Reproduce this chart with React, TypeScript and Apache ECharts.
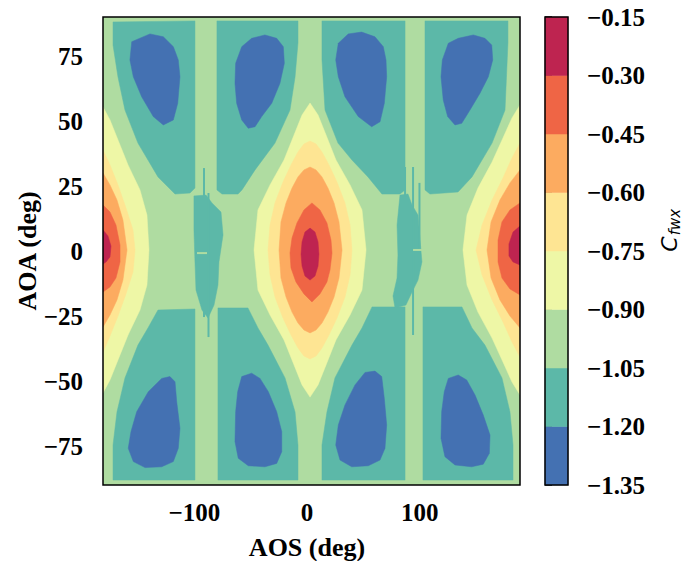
import React, { useEffect, useRef } from 'react';
import * as echarts from 'echarts';

type Pt = [number, number];

// ---- contour levels & colours (Cfwx) ----
const levelEdges = [-1.35, -1.2, -1.05, -0.9, -0.75, -0.6, -0.45, -0.3, -0.15];
const levelColors = ['#4471b2', '#5cb8a8', '#afdca1', '#eef7a6', '#fee593', '#fcab60', '#ef6545', '#be2450'];
const xTicks = [-100, 0, 100];
const yTicks = [-75, -50, -25, 0, 25, 50, 75];
const xRange = [-181, 189];
const yRange = [-90, 90];

// ---- contour regions: [AOS deg, AOA deg] ----
const background: Pt[] = [[-181, 90], [189, 90], [189, -90], [-181, -90]];

const cupUpperA: Pt[] = [[-172.1, 88.1], [-99.4, 88.5], [-99.4, 24.2], [-103.8, 22.3], [-117.1, 21.9], [-132.2, 28.5], [-150.0, 41.5], [-161.5, 54.2], [-167.7, 66.9], [-172.1, 79.2]];
const cupUpperB: Pt[] = [[-79.9, 88.5], [-8.0, 88.5], [-8.0, 80.0], [-10.6, 66.9], [-15.1, 54.2], [-28.4, 41.5], [-46.1, 31.2], [-57.7, 23.5], [-61.2, 21.9], [-75.4, 21.9], [-79.9, 23.5]];
const cupUpperC: Pt[] = [[13.3, 88.5], [87.0, 88.5], [87.0, 23.5], [82.5, 21.9], [66.5, 21.9], [54.1, 28.5], [39.9, 35.0], [27.5, 41.5], [16.0, 54.2], [13.3, 73.5]];
const cupUpperD: Pt[] = [[104.7, 88.5], [178.3, 88.5], [178.3, 80.0], [175.7, 54.2], [164.2, 41.5], [146.4, 28.5], [134.0, 22.7], [109.1, 21.9], [104.7, 23.5]];
const cupLowerA: Pt[] = [[-132.2, -22.7], [-99.4, -22.3], [-99.4, -88.1], [-172.1, -88.1], [-172.1, -74.6], [-168.6, -61.9], [-161.5, -48.8], [-150.0, -36.2], [-141.1, -29.6]];
const cupLowerB: Pt[] = [[-79.0, -21.9], [-52.4, -21.9], [-43.5, -29.6], [-34.6, -36.2], [-19.5, -48.8], [-10.6, -61.9], [-8.0, -74.6], [-8.0, -88.1], [-79.0, -88.1]];
const cupLowerC: Pt[] = [[13.3, -88.1], [13.3, -74.6], [17.7, -61.9], [24.8, -48.8], [39.9, -36.2], [48.8, -29.6], [57.7, -21.5], [87.0, -21.5], [87.0, -88.1]];
const cupLowerD: Pt[] = [[102.9, -21.5], [137.5, -21.5], [146.4, -29.6], [157.9, -36.2], [173.0, -48.8], [180.1, -61.9], [182.8, -74.6], [182.8, -88.1], [102.9, -88.1]];

const stemLeft: Pt[] = [[-100.3, 21.2], [-89.6, 21.5], [-84.3, 18.5], [-76.3, 15.0], [-74.5, 6.2], [-78.1, -4.2], [-79.0, -13.1], [-82.5, -20.8], [-87.8, -25.8], [-93.2, -22.7], [-98.5, -15.0], [-99.4, -4.2], [-100.3, 8.1]];
const stemRight: Pt[] = [[82.5, 21.5], [89.6, 21.9], [93.2, 17.7], [98.5, 13.8], [100.3, 4.2], [102.0, -4.2], [98.5, -11.2], [93.2, -15.8], [87.8, -20.8], [78.1, -21.9], [76.3, -17.3], [79.9, -10.4], [80.7, -1.5], [79.9, 10.0]];

const blobUpperA: Pt[] = [[-155.5, 80.5], [-157.1, 73.5], [-154.1, 67.0], [-146.7, 59.3], [-136.4, 51.7], [-127.5, 48.5], [-118.6, 50.4], [-114.7, 56.8], [-112.7, 67.0], [-114.2, 73.5], [-118.6, 78.6], [-127.5, 82.4], [-139.3, 83.5]];
const blobUpperB: Pt[] = [[-57.9, 78.6], [-63.3, 72.2], [-63.9, 64.5], [-62.4, 56.8], [-57.9, 50.4], [-52.1, 47.2], [-46.1, 47.8], [-40.2, 51.7], [-31.3, 56.8], [-24.0, 64.5], [-20.1, 72.2], [-21.0, 78.6], [-26.9, 81.8], [-37.3, 83.1], [-49.1, 81.8]];
const blobUpperC: Pt[] = [[27.8, 79.9], [25.5, 73.5], [27.8, 67.0], [33.7, 59.3], [45.5, 51.7], [57.4, 47.8], [64.8, 49.7], [68.6, 56.8], [70.7, 67.0], [70.1, 73.5], [67.7, 78.6], [60.3, 82.4], [48.5, 84.2], [36.6, 83.5]];
const blobUpperD: Pt[] = [[125.4, 79.9], [120.1, 73.5], [118.9, 67.0], [120.9, 58.1], [124.8, 51.7], [131.3, 48.5], [137.3, 49.1], [144.6, 54.2], [153.5, 60.7], [160.9, 67.0], [164.8, 73.5], [163.9, 79.2], [157.9, 81.8], [147.6, 83.1], [134.2, 81.8]];
const blobLowerA: Pt[] = [[-128.9, -49.0], [-121.6, -48.3], [-117.1, -50.3], [-115.6, -58.0], [-112.7, -68.2], [-114.2, -75.9], [-118.6, -81.0], [-128.9, -83.0], [-143.7, -83.3], [-154.1, -81.0], [-158.6, -75.9], [-156.2, -69.5], [-151.1, -61.8], [-140.8, -54.1]];
const blobLowerB: Pt[] = [[-57.9, -48.3], [-49.1, -47.0], [-41.7, -49.0], [-34.3, -54.1], [-26.9, -61.8], [-22.4, -69.5], [-22.4, -77.2], [-26.9, -81.7], [-37.3, -83.0], [-52.1, -82.6], [-61.0, -79.7], [-63.9, -73.3], [-63.3, -61.8], [-61.5, -54.1]];
const blobLowerC: Pt[] = [[51.5, -46.7], [60.3, -46.2], [66.3, -48.3], [68.6, -56.7], [70.7, -66.9], [69.2, -75.9], [64.8, -80.4], [54.4, -82.6], [39.7, -83.0], [29.3, -80.4], [25.5, -74.6], [27.8, -66.9], [33.7, -59.2], [42.6, -51.5]];
const blobLowerD: Pt[] = [[125.4, -49.0], [134.2, -47.7], [141.7, -49.6], [149.1, -55.4], [156.4, -63.1], [162.4, -70.8], [161.8, -77.8], [156.4, -82.0], [146.1, -83.0], [131.3, -82.3], [122.4, -79.1], [118.9, -72.0], [119.5, -61.8], [121.8, -54.1]];

const leftL3: Pt[] = [[-181, 55.4], [-174.8, 50.4], [-167.7, 42.7], [-158.8, 33.1], [-148.2, 23.5], [-142.0, 13.8], [-140.2, 0.4], [-142.0, -13.1], [-148.2, -22.7], [-158.8, -32.3], [-167.7, -41.9], [-174.8, -49.6], [-181, -54.6]];
const leftL4: Pt[] = [[-181, 38.8], [-174.8, 33.1], [-167.7, 25.4], [-160.6, 16.5], [-154.4, 8.1], [-152.6, 0.4], [-154.4, -8.1], [-160.6, -16.5], [-167.7, -25.0], [-174.8, -32.7], [-181, -38.8]];
const leftL5: Pt[] = [[-181, 30.0], [-174.8, 25.4], [-168.6, 19.6], [-163.3, 11.9], [-159.7, 0.4], [-163.3, -11.2], [-168.6, -18.8], [-174.8, -24.6], [-181, -29.2]];
const leftL6: Pt[] = [[-181, 17.7], [-174.8, 15.0], [-169.5, 10.0], [-165.9, 2.3], [-165.9, -4.2], [-169.5, -10.4], [-174.8, -13.8], [-181, -15.8]];
const leftL7: Pt[] = [[-181, 8.1], [-176.6, 5.8], [-173.9, 1.9], [-174.8, -2.3], [-178.3, -4.2], [-181, -5.0]];

const centerL3: Pt[] = [[2.7, 56.9], [9.8, 52.3], [16.9, 44.6], [25.7, 35.0], [38.2, 25.4], [48.8, 15.8], [52.4, 0.4], [48.8, -15.0], [38.2, -24.6], [25.7, -34.2], [16.9, -43.8], [9.8, -51.5], [2.7, -56.2], [-4.4, -51.5], [-11.5, -43.8], [-20.4, -34.2], [-32.8, -24.6], [-43.5, -15.0], [-47.0, 0.4], [-43.5, 15.8], [-32.8, 25.4], [-20.4, 35.0], [-11.5, 44.6], [-4.4, 52.3]];
const centerL4: Pt[] = [[2.7, 42.3], [8.0, 41.2], [13.3, 38.1], [19.5, 33.1], [26.6, 26.5], [33.7, 18.5], [38.2, 10.0], [39.9, 0.4], [38.2, -9.2], [33.7, -17.7], [26.6, -25.8], [19.5, -32.3], [13.3, -37.3], [8.0, -40.4], [2.7, -41.5], [-2.7, -40.4], [-8.0, -37.3], [-14.2, -32.3], [-21.3, -25.8], [-28.4, -17.7], [-32.8, -9.2], [-34.6, 0.4], [-32.8, 10.0], [-28.4, 18.5], [-21.3, 26.5], [-14.2, 33.1], [-8.0, 38.1], [-2.7, 41.2]];
const centerL5: Pt[] = [[2.7, 32.3], [8.0, 31.2], [13.3, 28.5], [18.6, 24.2], [24.0, 18.5], [28.4, 11.2], [31.1, 0.4], [28.4, -10.4], [24.0, -17.7], [18.6, -23.5], [13.3, -27.7], [8.0, -30.4], [2.7, -31.5], [-2.7, -30.4], [-8.0, -27.7], [-13.3, -23.5], [-18.6, -17.7], [-23.1, -10.4], [-24.8, 0.4], [-23.1, 11.2], [-18.6, 18.5], [-13.3, 24.2], [-8.0, 28.5], [-2.7, 31.2]];
const centerL6: Pt[] = [[4.4, 18.5], [11.5, 15.8], [17.7, 10.8], [21.3, 4.2], [22.2, -0.8], [20.4, -7.3], [17.7, -11.9], [11.5, -16.5], [4.4, -19.6], [-2.7, -16.5], [-9.8, -11.9], [-14.2, -6.5], [-15.1, -0.8], [-13.3, 5.0], [-8.9, 10.8], [-2.7, 15.8]];
const centerL7: Pt[] = [[2.7, 8.8], [7.1, 7.3], [9.8, 3.5], [10.6, -1.2], [9.8, -5.8], [7.1, -9.6], [2.7, -11.2], [-1.8, -9.6], [-4.4, -5.8], [-5.3, -1.2], [-4.4, 3.5], [-1.8, 7.3]];

const rightL3: Pt[] = [[189, 56.2], [181.9, 51.2], [173.9, 43.5], [164.2, 34.2], [151.7, 24.2], [142.0, 13.8], [138.4, 0.4], [142.0, -13.1], [151.7, -23.5], [164.2, -33.5], [173.9, -42.7], [181.9, -50.4], [189, -55.4]];
const rightL4: Pt[] = [[189, 41.5], [181.9, 35.8], [173.9, 28.1], [164.2, 19.6], [155.3, 10.0], [150.0, 0.4], [155.3, -9.2], [164.2, -18.8], [173.9, -27.3], [181.9, -35.0], [189, -40.8]];
const rightL5: Pt[] = [[189, 31.2], [180.1, 26.2], [171.2, 19.6], [163.3, 11.2], [159.7, 0.4], [163.3, -10.4], [171.2, -18.8], [180.1, -25.0], [189, -29.6]];
const rightL6: Pt[] = [[189, 18.5], [180.1, 15.8], [173.0, 11.2], [169.5, 4.2], [169.5, -4.2], [173.0, -10.4], [180.1, -14.6], [189, -16.9]];
const rightL7: Pt[] = [[189, 9.6], [182.8, 7.3], [179.2, 2.7], [179.2, -1.9], [182.8, -4.2], [189, -5.4]];

// thin streaks near AOS = ±90
const streakLeft1: Pt[] = [[-91.4, 31.9], [-91.4, -25.4]];
const streakLeft2: Pt[] = [[-87.4, 22.3], [-87.4, -33.1]];
const streakRight1: Pt[] = [[87.0, 32.3], [87.0, 20.8]];
const streakRight2: Pt[] = [[94.1, 32.3], [94.1, -32.3]];
const streakRight3: Pt[] = [[99.8, 26.2], [99.8, 0.4]];
const cutLeft: Pt[] = [[-97.6, -0.8], [-88.7, -0.8]];
const cutRight: Pt[] = [[94.1, 0.4], [104.7, 0.4]];

const regions: { level: number; pts: Pt[] }[] = [
  { level: 2, pts: background },
  { level: 1, pts: cupUpperA }, { level: 1, pts: cupUpperB }, { level: 1, pts: cupUpperC }, { level: 1, pts: cupUpperD },
  { level: 1, pts: cupLowerA }, { level: 1, pts: cupLowerB }, { level: 1, pts: cupLowerC }, { level: 1, pts: cupLowerD },
  { level: 1, pts: stemLeft }, { level: 1, pts: stemRight },
  { level: 0, pts: blobUpperA }, { level: 0, pts: blobUpperB }, { level: 0, pts: blobUpperC }, { level: 0, pts: blobUpperD },
  { level: 0, pts: blobLowerA }, { level: 0, pts: blobLowerB }, { level: 0, pts: blobLowerC }, { level: 0, pts: blobLowerD },
  { level: 3, pts: leftL3 }, { level: 4, pts: leftL4 }, { level: 5, pts: leftL5 }, { level: 6, pts: leftL6 }, { level: 7, pts: leftL7 },
  { level: 3, pts: centerL3 }, { level: 4, pts: centerL4 }, { level: 5, pts: centerL5 }, { level: 6, pts: centerL6 }, { level: 7, pts: centerL7 },
  { level: 3, pts: rightL3 }, { level: 4, pts: rightL4 }, { level: 5, pts: rightL5 }, { level: 6, pts: rightL6 }, { level: 7, pts: rightL7 },
];

const streaks: { level: number; pts: Pt[] }[] = [
  { level: 1, pts: streakLeft1 }, { level: 1, pts: streakLeft2 },
  { level: 1, pts: streakRight1 }, { level: 1, pts: streakRight2 }, { level: 1, pts: streakRight3 },
  { level: 2, pts: cutLeft }, { level: 2, pts: cutRight },
];

const SERIF = '"Liberation Serif", "Times New Roman", serif';
const minus = (s: string) => s.replace('-', '\u2212');

export default function App() {
  const ref = useRef<HTMLDivElement>(null);
  useEffect(() => {
    if (!ref.current) return;
    const chart = echarts.init(ref.current, undefined, { renderer: 'svg' });
    const tickLabel = {
      color: '#000',
      fontFamily: SERIF,
      fontWeight: 'bold' as const,
      fontSize: 25,
    };
    const option: any = {
      animation: false,
      backgroundColor: '#fff',
      grid: [
        { left: 103, top: 17, width: 417, height: 468 },
        { left: 545, top: 17, width: 23, height: 468 },
      ],
      xAxis: [
        {
          gridIndex: 0, type: 'value', min: xRange[0], max: xRange[1],
          axisLine: { show: false }, splitLine: { show: false },
          axisTick: { show: true, length: 7, lineStyle: { color: '#000', width: 1.5 }, customValues: xTicks },
          axisLabel: { ...tickLabel, margin: 15, customValues: xTicks, formatter: (v: number) => minus(String(v)) },
        },
        { gridIndex: 1, type: 'value', min: 0, max: 1, show: false },
      ],
      yAxis: [
        {
          gridIndex: 0, type: 'value', min: yRange[0], max: yRange[1],
          axisLine: { show: false }, splitLine: { show: false },
          axisTick: { show: true, length: 7, lineStyle: { color: '#000', width: 1.5 }, customValues: yTicks },
          axisLabel: { ...tickLabel, margin: 20, customValues: yTicks, formatter: (v: number) => minus(String(v)) },
        },
        {
          gridIndex: 1, type: 'value', position: 'right', min: levelEdges[0], max: levelEdges[levelEdges.length - 1],
          axisLine: { show: false }, splitLine: { show: false },
          axisTick: { show: true, length: 7, lineStyle: { color: '#000', width: 1.5 }, customValues: levelEdges },
          axisLabel: { ...tickLabel, margin: 19, customValues: levelEdges, formatter: (v: number) => minus(v.toFixed(2)) },
        },
      ],
      series: [
        {
          type: 'custom', xAxisIndex: 0, yAxisIndex: 0, clip: true, silent: true,
          data: regions.map((_, i) => [0, 0, i]),
          renderItem: (_p: any, api: any) => {
            const r = regions[api.value(2)];
            return {
              type: 'polygon',
              shape: { points: r.pts.map((p) => api.coord(p)) },
              style: { fill: levelColors[r.level], stroke: levelColors[r.level], lineWidth: 0.5 },
            };
          },
        },
        {
          type: 'custom', xAxisIndex: 0, yAxisIndex: 0, clip: true, silent: true,
          data: streaks.map((_, i) => [0, 0, i]),
          renderItem: (_p: any, api: any) => {
            const s = streaks[api.value(2)];
            return {
              type: 'polyline',
              shape: { points: s.pts.map((p) => api.coord(p)) },
              style: { fill: 'none', stroke: levelColors[s.level], lineWidth: 2 },
            };
          },
        },
        {
          type: 'custom', xAxisIndex: 1, yAxisIndex: 1, silent: true,
          data: levelColors.map((_, i) => [0.5, (levelEdges[i] + levelEdges[i + 1]) / 2, i]),
          renderItem: (_p: any, api: any) => {
            const i = api.value(2);
            const a = api.coord([0, levelEdges[i + 1]]);
            const b = api.coord([1, levelEdges[i]]);
            return {
              type: 'rect',
              shape: { x: a[0], y: a[1], width: b[0] - a[0], height: b[1] - a[1] },
              style: { fill: levelColors[i], stroke: levelColors[i], lineWidth: 0.5 },
            };
          },
        },
      ],
      graphic: [
        { type: 'rect', z: 100, silent: true, shape: { x: 103, y: 17, width: 417, height: 468 }, style: { fill: 'none', stroke: '#000', lineWidth: 1.5 } },
        { type: 'rect', z: 100, silent: true, shape: { x: 545, y: 17, width: 23, height: 468 }, style: { fill: 'none', stroke: '#000', lineWidth: 1.5 } },
        { type: 'text', z: 100, x: 307, y: 547, style: { text: 'AOS (deg)', font: `bold 26px ${SERIF}`, fill: '#000', align: 'center', verticalAlign: 'middle' } },
        { type: 'text', z: 100, x: 27, y: 251, rotation: Math.PI / 2, style: { text: 'AOA (deg)', font: `bold 26px ${SERIF}`, fill: '#000', align: 'center', verticalAlign: 'middle' } },
        { type: 'text', z: 100, x: 669, y: 244, rotation: Math.PI / 2, style: { text: 'C', font: 'italic 22px "DejaVu Sans"', fill: '#000', align: 'center', verticalAlign: 'middle' } },
        { type: 'text', z: 100, x: 675, y: 222, rotation: Math.PI / 2, style: { text: 'fwx', font: 'italic 15px "DejaVu Sans"', fill: '#000', align: 'center', verticalAlign: 'middle' } },
      ],
    };
    chart.setOption(option);
    return () => chart.dispose();
  }, []);
  return <div ref={ref} style={{ position: 'fixed', left: 0, top: 0, width: 685, height: 561 }} />;
}
